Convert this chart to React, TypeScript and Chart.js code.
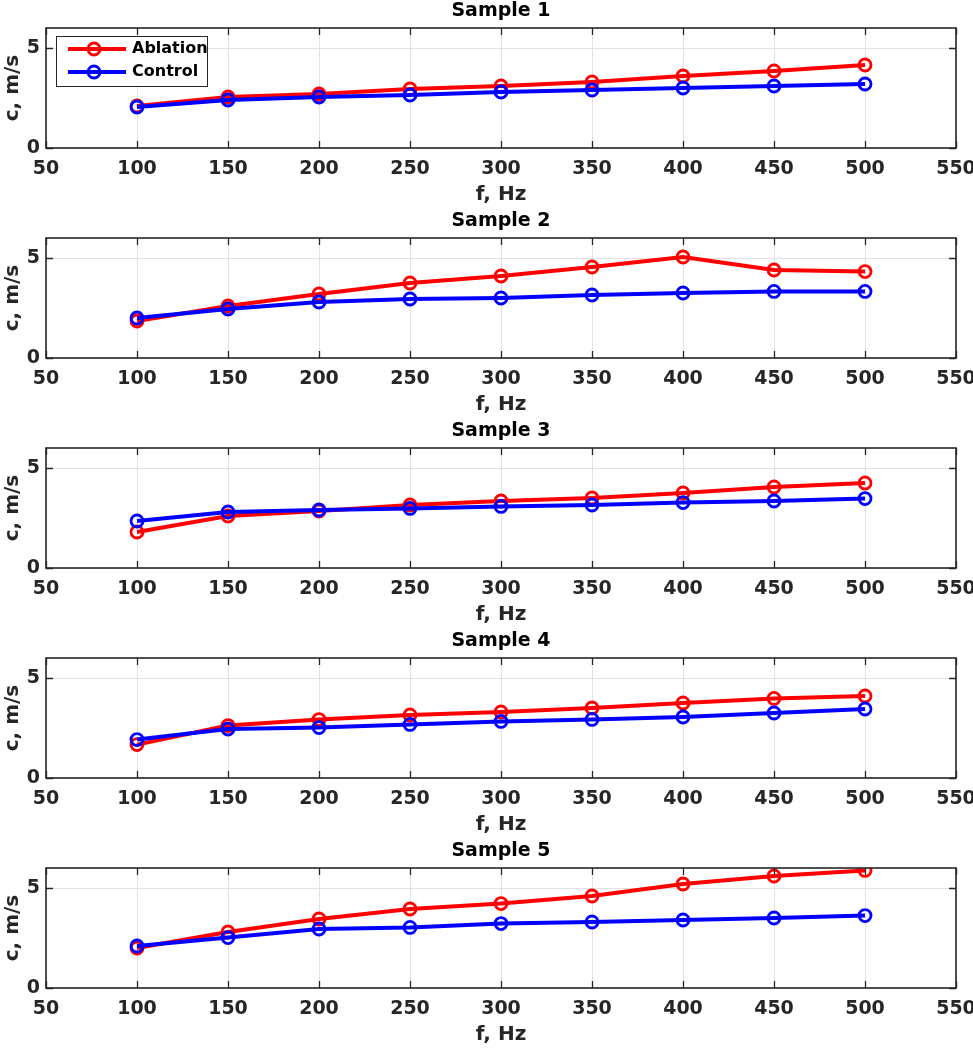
import React, { useEffect, useRef } from "react";
import { Chart, registerables } from "chart.js";

Chart.register(...registerables);

// ---------- data ----------
const FREQ = [100, 150, 200, 250, 300, 350, 400, 450, 500];
const SAMPLE_TITLES = ["Sample 1", "Sample 2", "Sample 3", "Sample 4", "Sample 5"];
const SERIES_LABELS = ["Ablation", "Control"];

const ABLATION_1 = [2.1, 2.55, 2.7, 2.95, 3.1, 3.3, 3.6, 3.85, 4.15];
const CONTROL_1 = [2.05, 2.4, 2.55, 2.65, 2.8, 2.9, 3.0, 3.1, 3.2];

const ABLATION_2 = [1.85, 2.6, 3.2, 3.75, 4.1, 4.55, 5.05, 4.4, 4.32];
const CONTROL_2 = [2.0, 2.45, 2.8, 2.95, 3.0, 3.15, 3.25, 3.33, 3.33];

const ABLATION_3 = [1.8, 2.6, 2.85, 3.15, 3.35, 3.5, 3.75, 4.05, 4.25];
const CONTROL_3 = [2.35, 2.8, 2.9, 2.98, 3.08, 3.15, 3.27, 3.35, 3.47];

const ABLATION_4 = [1.67, 2.62, 2.92, 3.15, 3.3, 3.5, 3.75, 3.98, 4.1];
const CONTROL_4 = [1.92, 2.45, 2.52, 2.68, 2.83, 2.93, 3.05, 3.25, 3.45];

const ABLATION_5 = [2.0, 2.8, 3.45, 3.95, 4.22, 4.6, 5.2, 5.6, 5.88];
const CONTROL_5 = [2.1, 2.52, 2.95, 3.03, 3.22, 3.3, 3.4, 3.5, 3.62];

const ABLATION = [ABLATION_1, ABLATION_2, ABLATION_3, ABLATION_4, ABLATION_5];
const CONTROL = [CONTROL_1, CONTROL_2, CONTROL_3, CONTROL_4, CONTROL_5];

const X_MIN = 50;
const X_MAX = 550;
const X_STEP = 50;
const Y_MIN = 0;
const Y_MAX = 6;
const Y_TICKS = [0, 5];
const X_LABEL = "f, Hz";
const Y_LABEL = "c, m/s";

// ---------- styles ----------
const RED = "#ff0000";
const BLUE = "#0000ff";
const AXIS_COLOR = "#262626";
const GRID_COLOR = "#e2e2e2";
const FONT_FAMILY = "'DejaVu Sans', 'Liberation Sans', sans-serif";
const CANVAS_W = 973;
const CANVAS_H = 210;
const TICK_LEN = 7;

const axesFramePlugin = {
  id: "axesFrame",
  afterDatasetsDraw(chart: any) {
    const { ctx, chartArea, scales } = chart;
    const { left, right, top, bottom } = chartArea;
    const xs = scales.x;
    const ys = scales.y;
    ctx.save();
    ctx.strokeStyle = AXIS_COLOR;
    ctx.lineWidth = 1.3;
    ctx.beginPath();
    xs.ticks.forEach((t: any) => {
      const px = Math.round(xs.getPixelForValue(t.value)) + 0.5;
      ctx.moveTo(px, bottom);
      ctx.lineTo(px, bottom - TICK_LEN);
      ctx.moveTo(px, top);
      ctx.lineTo(px, top + TICK_LEN);
    });
    ys.ticks.forEach((t: any) => {
      const py = Math.round(ys.getPixelForValue(t.value)) + 0.5;
      ctx.moveTo(left, py);
      ctx.lineTo(left + TICK_LEN, py);
      ctx.moveTo(right, py);
      ctx.lineTo(right - TICK_LEN, py);
    });
    ctx.stroke();
    ctx.lineWidth = 1.6;
    ctx.strokeRect(left, top, right - left, bottom - top);
    ctx.restore();
  },
};

const legendBoxPlugin = {
  id: "legendBox",
  afterDraw(chart: any) {
    const { ctx, chartArea } = chart;
    const bx = chartArea.left + 10;
    const by = chartArea.top + 8;
    const bw = 151;
    const bh = 50;
    ctx.save();
    ctx.fillStyle = "#ffffff";
    ctx.fillRect(bx, by, bw, bh);
    ctx.strokeStyle = AXIS_COLOR;
    ctx.lineWidth = 1;
    ctx.strokeRect(bx + 0.5, by + 0.5, bw, bh);
    chart.data.datasets.forEach((ds: any, i: number) => {
      const cy = by + 13 + i * 23;
      ctx.strokeStyle = ds.borderColor;
      ctx.lineWidth = 4;
      ctx.beginPath();
      ctx.moveTo(bx + 12, cy);
      ctx.lineTo(bx + 70, cy);
      ctx.stroke();
      ctx.lineWidth = 2.8;
      ctx.beginPath();
      ctx.arc(bx + 38, cy, 6, 0, Math.PI * 2);
      ctx.stroke();
      ctx.fillStyle = "#000000";
      ctx.font = `bold 16px ${FONT_FAMILY}`;
      ctx.textAlign = "left";
      ctx.textBaseline = "middle";
      ctx.fillText(ds.label, bx + 76, cy);
    });
    ctx.restore();
  },
};

function makeDataset(label: string, values: number[], color: string, order: number) {
  return {
    label,
    data: FREQ.map((f, i) => ({ x: f, y: values[i] })),
    borderColor: color,
    backgroundColor: color,
    borderWidth: 4,
    pointRadius: 6,
    pointHoverRadius: 6,
    pointBorderWidth: 2.8,
    pointBorderColor: color,
    pointBackgroundColor: "rgba(0,0,0,0)",
    pointStyle: "circle",
    tension: 0,
    fill: false,
    order,
  };
}

function Subplot({ index }: { index: number }) {
  const ref = useRef<HTMLCanvasElement>(null);

  useEffect(() => {
    if (!ref.current) return;
    const plugins: any[] = [axesFramePlugin];
    if (index === 0) plugins.push(legendBoxPlugin);
    const chart = new Chart(ref.current, {
      type: "line",
      data: {
        datasets: [
          makeDataset(SERIES_LABELS[0], ABLATION[index], RED, 1),
          makeDataset(SERIES_LABELS[1], CONTROL[index], BLUE, 0),
        ] as any,
      },
      options: {
        responsive: false,
        animation: false,
        devicePixelRatio: 1,
        events: [],
        layout: { padding: { left: 0, right: 17, top: 0, bottom: 0 } },
        plugins: {
          legend: { display: false },
          tooltip: { enabled: false },
          title: {
            display: true,
            text: SAMPLE_TITLES[index],
            color: "#000000",
            fullSize: false,
            font: { family: FONT_FAMILY, size: 19, weight: "bold" },
            padding: { top: 0, bottom: 5.2 },
          },
        },
        scales: {
          x: {
            type: "linear",
            min: X_MIN,
            max: X_MAX,
            grid: { color: GRID_COLOR, lineWidth: 1, drawTicks: false },
            border: { display: false },
            ticks: {
              stepSize: X_STEP,
              autoSkip: false,
              maxRotation: 0,
              minRotation: 0,
              padding: 9.5,
              color: AXIS_COLOR,
              font: { family: FONT_FAMILY, size: 19, weight: "bold" },
            },
            title: {
              display: true,
              text: X_LABEL,
              color: AXIS_COLOR,
              font: { family: FONT_FAMILY, size: 20, weight: "bold" },
              padding: { top: 0, bottom: 3 },
            },
            afterFit(scale: any) {
              scale.height = CANVAS_H - 148;
              scale.paddingLeft = 0;
              scale.paddingRight = 0;
            },
          },
          y: {
            type: "linear",
            min: Y_MIN,
            max: Y_MAX,
            grid: { color: GRID_COLOR, lineWidth: 1, drawTicks: false },
            border: { display: false },
            afterBuildTicks(scale: any) {
              scale.ticks = Y_TICKS.map((v) => ({ value: v }));
            },
            ticks: {
              padding: 6,
              color: AXIS_COLOR,
              font: { family: FONT_FAMILY, size: 19, weight: "bold" },
            },
            title: {
              display: true,
              text: Y_LABEL,
              color: AXIS_COLOR,
              font: { family: FONT_FAMILY, size: 20, weight: "bold" },
              padding: { top: 0.5, bottom: 0 },
            },
            afterFit(scale: any) {
              scale.width = 46;
              scale.paddingTop = 0;
              scale.paddingBottom = 0;
            },
          },
        },
      } as any,
      plugins,
    });
    return () => chart.destroy();
  }, [index]);

  return (
    <canvas
      ref={ref}
      width={CANVAS_W}
      height={CANVAS_H}
      style={{
        position: "absolute",
        left: 0,
        top: index * CANVAS_H,
        width: CANVAS_W,
        height: CANVAS_H,
        display: "block",
      }}
    />
  );
}

export default function App() {
  return (
    <div style={{ position: "absolute", left: 0, top: 0, width: CANVAS_W, height: CANVAS_H * 5, background: "#ffffff" }}>
      {SAMPLE_TITLES.map((_, i) => (
        <Subplot key={i} index={i} />
      ))}
    </div>
  );
}
